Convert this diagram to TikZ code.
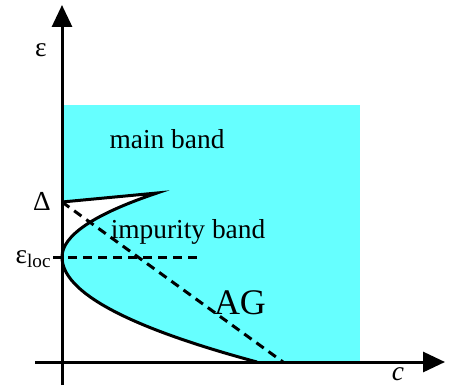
\documentclass[tikz,border=0pt]{standalone}
\usepackage{fontspec}
\setmainfont{Liberation Serif}
\usetikzlibrary{arrows.meta}
\definecolor{bandcyan}{HTML}{66FFFF}

\begin{document}
\begin{tikzpicture}[x=0.5pt,y=-0.5pt,>={Triangle[length=11pt,width=10pt]},
  font=\fontsize{13.7}{16}\selectfont,
  axis/.style={line width=1.5pt},
  edgeline/.style={line width=1.5pt},
  guide/.style={line width=1.5pt,dash pattern=on 4.5pt off 3pt}]
\useasboundingbox (0,0) rectangle (449,385);
% reference points
\coordinate (origin) at (62,362);
\coordinate (ytop) at (62,5);
\coordinate (ybot) at (62,385);
\coordinate (xleft) at (35,362);
\coordinate (xright) at (445,362);
\coordinate (gap) at (62,202);
\coordinate (tip) at (157,193);
\coordinate (loc) at (62,257);
\coordinate (bandend) at (257,362);
\coordinate (agend) at (283,362);
\coordinate (locstart) at (53,257);
\coordinate (locend) at (197,257);
% bands
\fill[bandcyan] (62,105) rectangle (360,362);
\fill[white] (gap) -- (tip) .. controls (93.7,214.3) and (62,235.7) .. (loc)
  .. controls (62,292) and (127,327) .. (bandend) -- (origin) -- cycle;
\draw[edgeline] (gap) -- (tip) .. controls (93.7,214.3) and (62,235.7) .. (loc)
  .. controls (62,292) and (127,327) .. (bandend);
\draw[guide] (gap) -- (agend);
\draw[guide] (locstart) -- (locend);
% axes
\draw[axis,->] (ybot) -- (ytop);
\draw[axis,->] (xleft) -- (xright);
% labels
\node (eps) at (41,50) {ε};
\node[inner sep=0pt] (cvar) at (398,374) {\textit{c}};
\node (deltalbl) at (42,201) {Δ};
\node[anchor=east,inner sep=0pt] (loclbl) at (52,259) {ε\textsubscript{loc}};
\node (main) at (167,139) {main band};
\node (impurity) at (188,232) {impurity band};
\node[font=\fontsize{18}{20}\selectfont] (ag) at (240,303) {AG};
\end{tikzpicture}
\end{document}
